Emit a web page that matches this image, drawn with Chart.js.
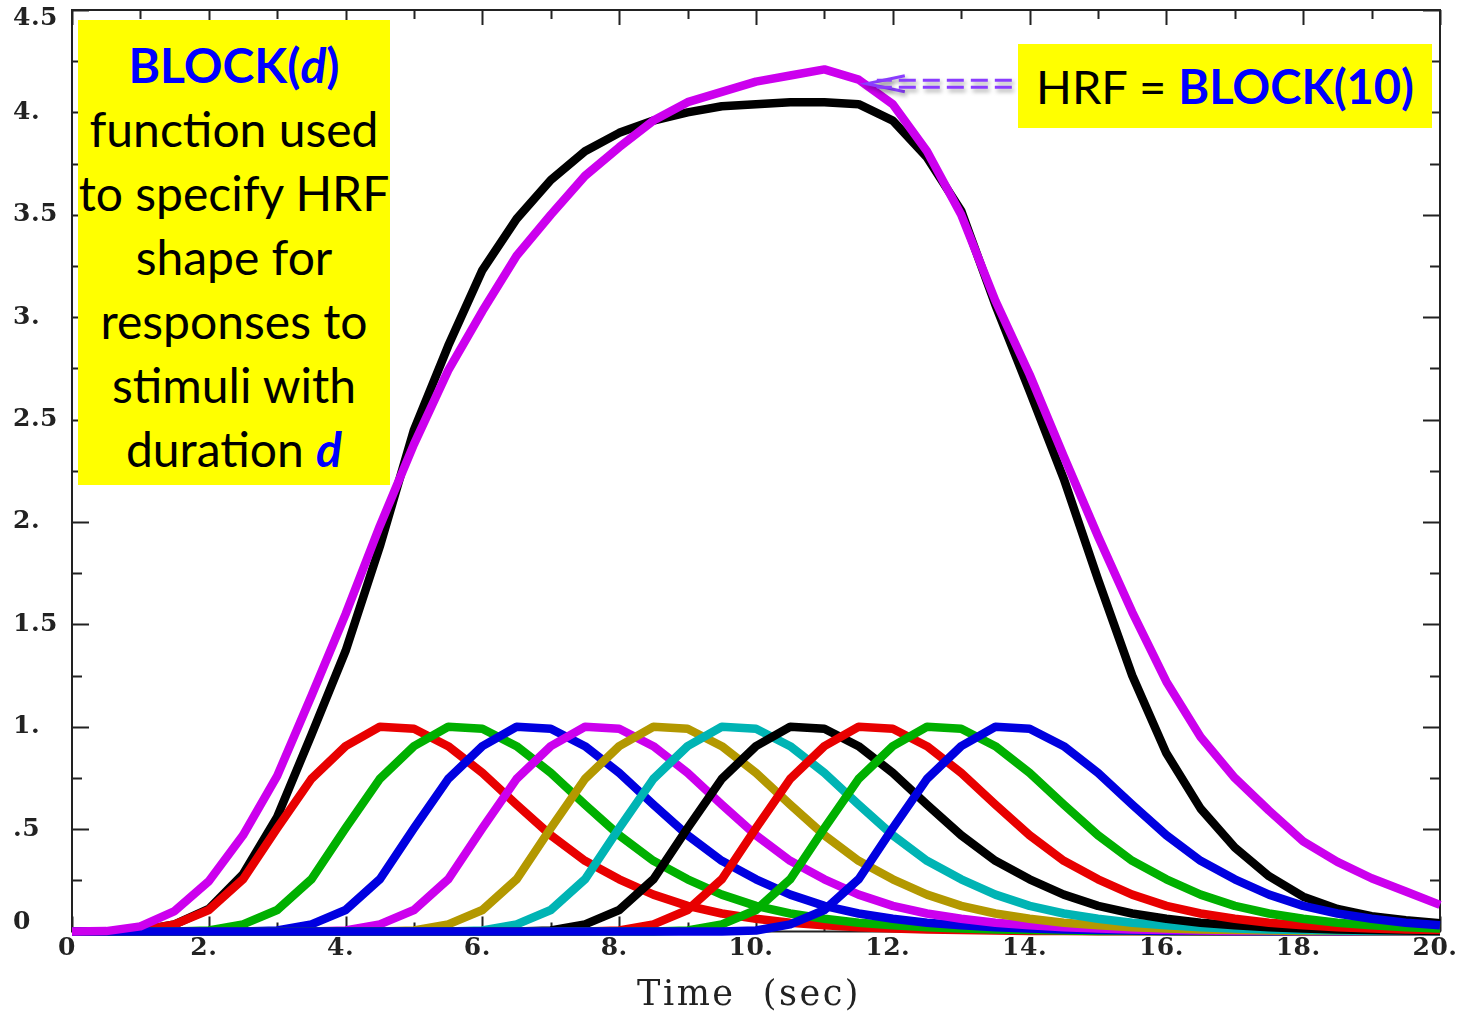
<!DOCTYPE html>
<html>
<head>
<meta charset="utf-8">
<script src="https://cdn.jsdelivr.net/npm/chart.js@4.4.1/dist/chart.umd.min.js"></script>
<style>
  html, body { margin: 0; padding: 0; background: #fff; }
  #wrap { position: relative; width: 1460px; height: 1016px; }
  .note { position: absolute; background: #ffff00; font-family: Lato, "Open Sans", sans-serif; color: #000; text-align: center; box-sizing: border-box; }
  #n1 { left: 78px; top: 20px; width: 312px; height: 465px; font-size: 48px; line-height: 64px; padding-top: 13px; }
  #n2 { left: 1018px; top: 44px; width: 414px; height: 84px; font-size: 47px; line-height: 84px; }
  .b { color: #0000ff; font-weight: bold; }
</style>
</head>
<body>
<div id="wrap">
  <canvas id="plot" width="1460" height="1016"></canvas>
  <div class="note" id="n1"><span class="b">BLOCK(<i>d</i>)</span><br>function used<br>to specify HRF<br>shape for<br>responses to<br>stimuli with<br>duration <span class="b"><i>d</i></span></div>
  <div class="note" id="n2">HRF = <span class="b">BLOCK(10)</span></div>
</div>
<script>
// time grid (sec)
const times = [0,0.5,1,1.5,2,2.5,3,3.5,4,4.5,5,5.5,6,6.5,7,7.5,8,8.5,9,9.5,10,10.5,11,11.5,12,12.5,13,13.5,14,14.5,15,15.5,16,16.5,17,17.5,18,18.5,19,19.5,20];

// BLOCK(1) responses, one per 1-sec stimulus starting at 0,1,...,9 sec
const block1_on0 = [0,0,0.005,0.035,0.105,0.255,0.505,0.745,0.905,1,0.99,0.905,0.775,0.62,0.47,0.345,0.255,0.18,0.125,0.088,0.062,0.043,0.03,0.021,0.015,0.01,0.007,0.005,0.003,0.002,0.0015,0.001,0.001,0,0,0,0,0,0,0,0];
const block1_on1 = [0,0,0,0,0.005,0.035,0.105,0.255,0.505,0.745,0.905,1,0.99,0.905,0.775,0.62,0.47,0.345,0.255,0.18,0.125,0.088,0.062,0.043,0.03,0.021,0.015,0.01,0.007,0.005,0.003,0.002,0.0015,0.001,0.001,0,0,0,0,0,0];
const block1_on2 = [0,0,0,0,0,0,0.005,0.035,0.105,0.255,0.505,0.745,0.905,1,0.99,0.905,0.775,0.62,0.47,0.345,0.255,0.18,0.125,0.088,0.062,0.043,0.03,0.021,0.015,0.01,0.007,0.005,0.003,0.002,0.0015,0.001,0.001,0,0,0,0];
const block1_on3 = [0,0,0,0,0,0,0,0,0.005,0.035,0.105,0.255,0.505,0.745,0.905,1,0.99,0.905,0.775,0.62,0.47,0.345,0.255,0.18,0.125,0.088,0.062,0.043,0.03,0.021,0.015,0.01,0.007,0.005,0.003,0.002,0.0015,0.001,0.001,0,0];
const block1_on4 = [0,0,0,0,0,0,0,0,0,0,0.005,0.035,0.105,0.255,0.505,0.745,0.905,1,0.99,0.905,0.775,0.62,0.47,0.345,0.255,0.18,0.125,0.088,0.062,0.043,0.03,0.021,0.015,0.01,0.007,0.005,0.003,0.002,0.0015,0.001,0.001];
const block1_on5 = [0,0,0,0,0,0,0,0,0,0,0,0,0.005,0.035,0.105,0.255,0.505,0.745,0.905,1,0.99,0.905,0.775,0.62,0.47,0.345,0.255,0.18,0.125,0.088,0.062,0.043,0.03,0.021,0.015,0.01,0.007,0.005,0.003,0.002,0.0015];
const block1_on6 = [0,0,0,0,0,0,0,0,0,0,0,0,0,0,0.005,0.035,0.105,0.255,0.505,0.745,0.905,1,0.99,0.905,0.775,0.62,0.47,0.345,0.255,0.18,0.125,0.088,0.062,0.043,0.03,0.021,0.015,0.01,0.007,0.005,0.003];
const block1_on7 = [0,0,0,0,0,0,0,0,0,0,0,0,0,0,0,0,0.005,0.035,0.105,0.255,0.505,0.745,0.905,1,0.99,0.905,0.775,0.62,0.47,0.345,0.255,0.18,0.125,0.088,0.062,0.043,0.03,0.021,0.015,0.01,0.007];
const block1_on8 = [0,0,0,0,0,0,0,0,0,0,0,0,0,0,0,0,0,0,0.005,0.035,0.105,0.255,0.505,0.745,0.905,1,0.99,0.905,0.775,0.62,0.47,0.345,0.255,0.18,0.125,0.088,0.062,0.043,0.03,0.021,0.015];
const block1_on9 = [0,0,0,0,0,0,0,0,0,0,0,0,0,0,0,0,0,0,0,0,0.005,0.035,0.105,0.255,0.505,0.745,0.905,1,0.99,0.905,0.775,0.62,0.47,0.345,0.255,0.18,0.125,0.088,0.062,0.043,0.03];

// the two big curves
const block10 = [0,0,0.005,0.035,0.11,0.28,0.56,0.96,1.37,1.88,2.45,2.86,3.23,3.48,3.67,3.81,3.90,3.96,4.00,4.03,4.04,4.05,4.05,4.04,3.96,3.78,3.52,3.06,2.64,2.21,1.72,1.25,0.87,0.60,0.41,0.27,0.17,0.11,0.075,0.055,0.04];
const sumOfBlock1 = [0,0.002,0.025,0.1,0.245,0.47,0.76,1.15,1.55,1.98,2.38,2.74,3.03,3.30,3.50,3.69,3.83,3.96,4.05,4.10,4.15,4.18,4.21,4.16,4.04,3.81,3.50,3.08,2.72,2.32,1.93,1.56,1.22,0.95,0.75,0.59,0.44,0.34,0.26,0.195,0.13];

const smallSeries = [block1_on0, block1_on1, block1_on2, block1_on3, block1_on4, block1_on5, block1_on6, block1_on7, block1_on8, block1_on9];
const smallColors = ['#e80000','#00b000','#0000e0','#cc00ee','#b39800','#00b4b4','#000000','#e80000','#00b000','#0000e0'];

// axis ticks
const yTicksAll = [0,0.25,0.5,0.75,1,1.25,1.5,1.75,2,2.25,2.5,2.75,3,3.25,3.5,3.75,4,4.25,4.5];
const yLabelVals = [0,0.5,1,1.5,2,2.5,3,3.5,4,4.5];
const yLabels = ['0','.5','1.','1.5','2.','2.5','3.','3.5','4.','4.5'];
const xTicksAll = [0,1,2,3,4,5,6,7,8,9,10,11,12,13,14,15,16,17,18,19,20];
const xLabelVals = [0,2,4,6,8,10,12,14,16,18,20];
const xLabels = ['0','2.','4.','6.','8.','10.','12.','14.','16.','18.','20.'];

const arrowTip = [11.62, 4.14];
const arrowTailX = 13.74;

function pts(vals) { return vals.map((v, i) => ({ x: times[i], y: v })); }

const datasets = [];
datasets.push({ data: pts(sumOfBlock1), borderColor: '#cc00ee', order: 0 });
smallSeries.forEach((s, j) => datasets.push({ data: pts(s), borderColor: smallColors[j], order: 10 - j }));
datasets.push({ data: pts(block10), borderColor: '#000000', order: 20 });

const frame = {
  id: 'frame',
  beforeDatasetsDraw(chart) {
    const { ctx, chartArea: a, scales: { x, y } } = chart;
    ctx.save();
    ctx.strokeStyle = '#222';
    ctx.lineWidth = 2;
    ctx.strokeRect(a.left, a.top, a.right - a.left, a.bottom - a.top);
    ctx.beginPath();
    yTicksAll.forEach(v => {
      const py = Math.round(y.getPixelForValue(v)) + 0.5;
      const len = yLabelVals.includes(v) ? 17 : 10;
      ctx.moveTo(a.left, py); ctx.lineTo(a.left + len, py);
      ctx.moveTo(a.right, py); ctx.lineTo(a.right - len, py);
    });
    xTicksAll.forEach(v => {
      const px = Math.round(x.getPixelForValue(v)) + 0.5;
      const len = xLabelVals.includes(v) ? 15 : 9;
      ctx.moveTo(px, a.top); ctx.lineTo(px, a.top + len);
      ctx.moveTo(px, a.bottom); ctx.lineTo(px, a.bottom - len);
    });
    ctx.stroke();
    ctx.restore();
  },
  afterDraw(chart) {
    const { ctx, chartArea: a, scales: { x, y } } = chart;
    ctx.save();
    ctx.fillStyle = '#222';
    ctx.font = 'bold 25px "DejaVu Serif"';
    ctx.letterSpacing = '0.5px';
    ctx.textBaseline = 'middle';
    ctx.textAlign = 'left';
    yLabelVals.forEach((v, i) => {
      let py = y.getPixelForValue(v);
      py = Math.min(Math.max(py, a.top + 8), a.bottom - 9);
      ctx.fillText(yLabels[i], 13, py);
    });
    ctx.textAlign = 'center';
    xLabelVals.forEach((v, i) => {
      ctx.fillText(xLabels[i], x.getPixelForValue(v) - 5, a.bottom + 17);
    });
    ctx.font = '35px "DejaVu Serif"';
    ctx.letterSpacing = '2.5px';
    ctx.fillText('Time  (sec)', (a.left + a.right) / 2 - 7, a.bottom + 64);

    // arrow pointing at the peak of the summed curve
    const tx = x.getPixelForValue(arrowTip[0]);
    const ty = y.getPixelForValue(arrowTip[1]);
    const tail = x.getPixelForValue(arrowTailX);
    ctx.letterSpacing = '0px';
    ctx.shadowColor = 'rgba(0,0,0,0.35)';
    ctx.shadowBlur = 4;
    ctx.shadowOffsetX = 2;
    ctx.shadowOffsetY = 3;
    ctx.strokeStyle = '#8a3cff';
    ctx.lineWidth = 3;
    ctx.beginPath();
    ctx.moveTo(tx + 38, ty - 8); ctx.lineTo(tx, ty); ctx.lineTo(tx + 38, ty + 8);
    ctx.stroke();
    ctx.setLineDash([17, 7]);
    [-3.5, 3.5].forEach(dy => {
      ctx.beginPath();
      ctx.moveTo(tail, ty + dy); ctx.lineTo(tx + 10, ty + dy);
      ctx.stroke();
    });
    ctx.restore();
  }
};

new Chart(document.getElementById('plot').getContext('2d'), {
  type: 'line',
  data: { datasets },
  options: {
    responsive: false,
    animation: false,
    devicePixelRatio: 1,
    layout: { padding: { left: 72, right: 20, top: 10, bottom: 84.5 } },
    plugins: { legend: { display: false }, tooltip: { enabled: false } },
    elements: {
      point: { radius: 0 },
      line: { tension: 0, borderWidth: 8.5, borderJoinStyle: 'round', borderCapStyle: 'butt', fill: false }
    },
    datasets: { line: { clip: false } },
    scales: {
      x: { type: 'linear', min: 0, max: 20, display: false },
      y: { type: 'linear', min: 0, max: 4.5, display: false }
    }
  },
  plugins: [frame]
});
</script>
</body>
</html>
